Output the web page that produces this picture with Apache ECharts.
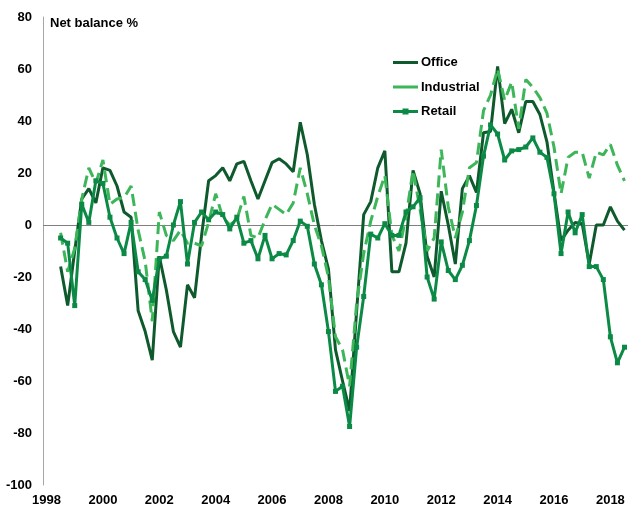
<!DOCTYPE html>
<html>
<head>
<meta charset="utf-8">
<script src="https://cdn.jsdelivr.net/npm/echarts@6/dist/echarts.min.js"></script>
<style>
  html, body { margin: 0; padding: 0; background: #fff; }
  #chart { width: 628px; height: 509px; }
</style>
</head>
<body>
<div id="chart"></div>
<script>
// quarterly categories, 1998 Q1 .. 2018 Q3
const years = [];
for (let y = 1998; y <= 2018; y++) years.push(y);
const quarters = years.flatMap((y) => ["Q1", "Q2", "Q3", "Q4"].map((q) => y + " " + q)).slice(0, 83);

// the series begin in 1998 Q3
const firstQuarter = 2;

const office = [
  -16, -31, -10, 10, 14, 8.5, 22, 21, 15, 5,
  3, -33, -41, -52, -12, -25, -41, -47, -23, -28,
  -4, 17, 19, 22, 17, 23.5, 24.5, 17, 10, 17,
  24, 25.5, 23.5, 20.5, 39.5, 27, 8, -6, -17, -48,
  -60, -71.5, -33, 4, 9, 22, 28.5, -18, -18, -7,
  21, 12, -12, -20, 13, 0, -15, 14, 19, 12.5,
  35.5, 36, 61, 39, 44.5, 35.5, 47.5, 47.5, 42.5, 32,
  12.5, -6, -2, 1, 0.5, -15, 0, 0, 7, 1.5,
  -2
];

const industrial = [
  -3, -18, -9, 10, 22, 16, 25, 8, 10, 10.5,
  15, -2, -14, -37, 5, -4, -6, -2, -7, -7,
  -8, 1, 12, 3, 0, 2, 11, -4, -5, 2,
  8, 6, 4, 8.5, 22, 12, 0, -8, -20, -43,
  -48, -62, -30, -11, 1.5, 11, 19, -4, -10, 3,
  21, 6, -10, -5, 29, 7, -5, 5, 22, 24,
  44, 50, 60, 48, 55, 37, 56, 53, 49, 43,
  30, 12, 26, 28, 28, 18, 28, 27, 31, 23,
  17
];

const retail = [
  -5, -7, -31, 8, 1, 17, 16, 3, -5, -11,
  1, -18, -21, -29, -13, -12, 0, 9, -15, 1,
  5, 2, 5, 4, -1.5, 3, -7, -6, -13, -4,
  -13, -11, -11.5, -6, 1.5, -0.5, -15, -23, -41, -64,
  -62, -77.5, -47, -27.5, -3.5, -5, 0.5, -4, -4, 5,
  7, 10.5, -20, -28.5, -6.5, -17.5, -21, -15.5, -6, 7.5,
  26.5, 38.5, 35, 25, 28.5, 29, 30, 33.5, 28, 26,
  12, -11, 5, -3, 4, -16, -16, -21, -43, -53,
  -47
];

const yTicks = { min: -100, max: 80, step: 20 };

function pad(values) {
  return new Array(firstQuarter).fill(null).concat(values);
}

const font = "Liberation Sans, Arial, sans-serif";
const colors = { office: "#0f5a2d", industrial: "#3db559", retail: "#0b8a46" };

// legend icons: 25 x 8 box, a 3px line (plus a small square for Retail);
// the hairline at x=0 keeps the box full height so nothing gets stretched
const lineIcon = "path://M0,2.5 L25,2.5 L25,5.5 L0,5.5 Z M0,0 L0.01,0 L0.01,8 L0,8 Z";
const retailIcon = "path://M0,2.5 L9.5,2.5 L9.5,1 L15.5,1 L15.5,2.5 L25,2.5 L25,5.5 L15.5,5.5 L15.5,7 L9.5,7 L9.5,5.5 L0,5.5 Z M0,0 L0.01,0 L0.01,8 L0,8 Z";

var chart = echarts.init(document.getElementById("chart"), null, { renderer: "canvas" });
chart.setOption({
  animation: false,
  backgroundColor: "#fff",
  title: {
    text: "Net balance %",
    left: 45,
    top: 12,
    textStyle: { fontFamily: font, fontSize: 13, fontWeight: "bold", color: "#000" },
  },
  legend: {
    orient: "vertical",
    left: 388,
    top: 51,
    itemWidth: 25,
    itemHeight: 8,
    itemGap: 11.5,
    textStyle: { fontFamily: font, fontSize: 13, fontWeight: "bold", color: "#000", padding: [0, 0, 0, -2] },
    data: [
      { name: "Office", icon: lineIcon, itemStyle: { color: colors.office } },
      { name: "Industrial", icon: lineIcon, itemStyle: { color: colors.industrial } },
      { name: "Retail", icon: retailIcon, itemStyle: { color: colors.retail } },
    ],
  },
  grid: { left: 43, right: 0, top: 17, bottom: 24, containLabel: false },
  xAxis: {
    type: "category",
    data: quarters,
    boundaryGap: true,
    axisLine: { show: false },
    axisTick: { show: false },
    axisLabel: {
      interval: 7,
      margin: 9,
      formatter: (v) => v.slice(0, 4),
      fontFamily: font,
      fontSize: 13,
      fontWeight: "bold",
      color: "#000",
    },
    splitLine: { show: false },
  },
  yAxis: {
    type: "value",
    min: yTicks.min,
    max: yTicks.max,
    interval: yTicks.step,
    axisLine: { show: true, lineStyle: { color: "#a6a6a6", width: 1 } },
    axisTick: { show: false },
    axisLabel: { margin: 11, fontFamily: font, fontSize: 13, fontWeight: "bold", color: "#000" },
    splitLine: { show: false },
  },
  series: [
    {
      name: "Office",
      type: "line",
      data: pad(office),
      symbol: "none",
      lineStyle: { color: colors.office, width: 3 },
      itemStyle: { color: colors.office },
      markLine: {
        silent: true,
        symbol: "none",
        z: 1,
        label: { show: false },
        lineStyle: { color: "#808080", width: 1, type: "solid" },
        data: [{ yAxis: 0 }],
      },
    },
    {
      name: "Industrial",
      type: "line",
      data: pad(industrial),
      symbol: "none",
      lineStyle: { color: colors.industrial, width: 3, type: [12, 6] },
      itemStyle: { color: colors.industrial },
    },
    {
      name: "Retail",
      type: "line",
      data: pad(retail),
      symbol: "rect",
      symbolSize: 5,
      showAllSymbol: true,
      lineStyle: { color: colors.retail, width: 3 },
      itemStyle: { color: colors.retail },
    },
  ],
});
</script>
</body>
</html>
